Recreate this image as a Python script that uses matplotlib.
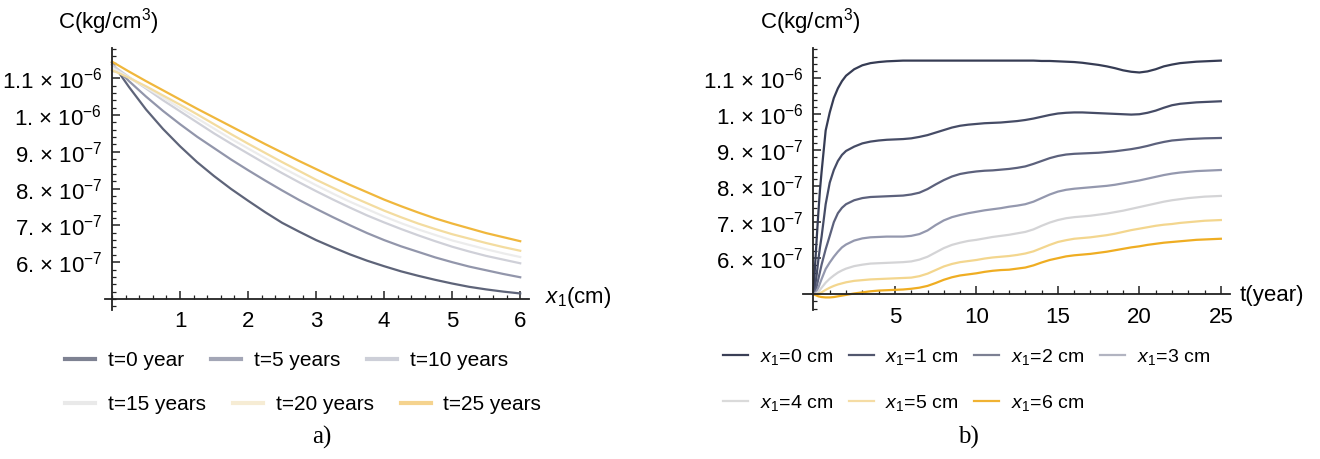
import numpy as np
import matplotlib.pyplot as plt
from matplotlib.lines import Line2D
from matplotlib.ticker import MultipleLocator, FixedLocator, FixedFormatter

plt.rcParams['font.family'] = ['Liberation Sans', 'DejaVu Sans']
plt.rcParams['mathtext.fontset'] = 'custom'
plt.rcParams['mathtext.rm'] = 'Liberation Sans'
plt.rcParams['mathtext.it'] = 'Liberation Sans:italic'

SCALE = 1e-7  # all concentrations below are in units of 1e-7 kg/cm^3

# a) concentration vs depth x1 (cm) for several times
depth = [0, 0.25, 0.5, 0.75, 1, 1.25, 1.5, 1.75, 2, 2.25, 2.5, 2.75, 3,
         3.25, 3.5, 3.75, 4, 4.25, 4.5, 4.75, 5, 5.25, 5.5, 5.75, 6]
conc_t0 = [11.42, 10.76, 10.15, 9.62, 9.15, 8.72, 8.34, 7.99, 7.67, 7.36, 7.07, 6.83, 6.60,
           6.40, 6.21, 6.04, 5.89, 5.75, 5.63, 5.52, 5.42, 5.33, 5.26, 5.20, 5.15]
conc_t5 = [11.38, 10.92, 10.50, 10.11, 9.75, 9.41, 9.10, 8.79, 8.50, 8.22, 7.95, 7.69, 7.45,
           7.22, 7.00, 6.79, 6.60, 6.43, 6.28, 6.13, 6.00, 5.88, 5.78, 5.68, 5.59]
conc_t10 = [11.36, 11.03, 10.72, 10.40, 10.10, 9.80, 9.50, 9.22, 8.95, 8.68, 8.42, 8.17, 7.93,
            7.70, 7.48, 7.27, 7.08, 6.90, 6.73, 6.57, 6.42, 6.29, 6.17, 6.07, 5.97]
conc_t15 = [11.29, 11.02, 10.75, 10.47, 10.19, 9.91, 9.63, 9.35, 9.09, 8.83, 8.57, 8.33, 8.09,
            7.86, 7.64, 7.44, 7.24, 7.06, 6.89, 6.74, 6.59, 6.47, 6.35, 6.24, 6.14]
conc_t20 = [11.22, 11.01, 10.78, 10.53, 10.28, 10.02, 9.75, 9.48, 9.22, 8.97, 8.72, 8.48, 8.24,
            8.02, 7.80, 7.60, 7.40, 7.22, 7.05, 6.90, 6.76, 6.64, 6.52, 6.41, 6.31]
conc_t25 = [11.45, 11.18, 10.92, 10.67, 10.42, 10.17, 9.93, 9.69, 9.45, 9.21, 8.98, 8.75, 8.53,
            8.31, 8.10, 7.90, 7.70, 7.52, 7.35, 7.19, 7.05, 6.92, 6.79, 6.68, 6.57]
time_labels = ['t=0 year', 't=5 years', 't=10 years',
               't=15 years', 't=20 years', 't=25 years']

# b) concentration vs time (years) at several depths
years = [0, 0.1, 0.2, 0.3, 0.4, 0.5, 0.75, 1, 1.25, 1.5, 1.75, 2,
         2.5, 3, 3.5, 4, 4.5, 5, 5.5, 6,
         6.5, 7, 7.5, 8, 8.5, 9, 9.5, 10,
         10.5, 11, 11.5, 12, 12.5, 13, 13.5, 14,
         14.5, 15, 15.5, 16, 16.5, 17, 17.5, 18,
         18.5, 19, 19.5, 20, 20.5, 21, 21.5, 22,
         22.5, 23, 23.5, 24, 24.5, 25]
conc_x0 = [5.0, 5.8, 6.55, 7.25, 7.9, 8.4, 9.55, 10.05, 10.45, 10.72, 10.92, 11.07,
           11.25, 11.36, 11.42, 11.45, 11.47, 11.48, 11.49, 11.49,
           11.49, 11.49, 11.49, 11.49, 11.49, 11.49, 11.49, 11.49,
           11.49, 11.49, 11.49, 11.49, 11.49, 11.49, 11.49, 11.48,
           11.48, 11.47, 11.46, 11.45, 11.43, 11.40, 11.37, 11.33,
           11.28, 11.22, 11.18, 11.16, 11.19, 11.25, 11.33, 11.38,
           11.42, 11.44, 11.46, 11.47, 11.48, 11.49]
conc_x1 = [5.0, 5.2, 5.55, 5.95, 6.3, 6.6, 7.5, 8.1, 8.45, 8.7, 8.87, 8.98,
           9.10, 9.19, 9.24, 9.27, 9.29, 9.30, 9.31, 9.33,
           9.37, 9.42, 9.49, 9.56, 9.63, 9.68, 9.71, 9.73,
           9.75, 9.76, 9.77, 9.79, 9.81, 9.84, 9.88, 9.93,
           9.98, 10.02, 10.04, 10.05, 10.05, 10.04, 10.03, 10.02,
           10.01, 10.00, 9.99, 10.00, 10.04, 10.10, 10.18, 10.25,
           10.29, 10.31, 10.33, 10.34, 10.35, 10.36]
conc_x2 = [5.0, 5.08, 5.22, 5.42, 5.62, 5.82, 6.25, 6.62, 7.0, 7.25, 7.4, 7.5,
           7.61, 7.67, 7.70, 7.71, 7.72, 7.73, 7.74, 7.77,
           7.82, 7.92, 8.05, 8.17, 8.27, 8.34, 8.38, 8.41,
           8.43, 8.44, 8.46, 8.48, 8.51, 8.55, 8.62, 8.70,
           8.78, 8.84, 8.88, 8.90, 8.91, 8.92, 8.93, 8.95,
           8.97, 9.00, 9.03, 9.07, 9.12, 9.18, 9.23, 9.27,
           9.29, 9.31, 9.32, 9.33, 9.335, 9.34]
conc_x3 = [5.0, 5.03, 5.09, 5.18, 5.3, 5.42, 5.7, 5.88, 6.04, 6.18, 6.3, 6.38,
           6.49, 6.55, 6.58, 6.59, 6.60, 6.60, 6.60, 6.62,
           6.67, 6.77, 6.92, 7.05, 7.14, 7.20, 7.25, 7.29,
           7.33, 7.36, 7.39, 7.43, 7.46, 7.50, 7.57, 7.67,
           7.77, 7.85, 7.90, 7.93, 7.95, 7.97, 7.99, 8.01,
           8.04, 8.08, 8.12, 8.16, 8.21, 8.26, 8.31, 8.35,
           8.38, 8.40, 8.42, 8.43, 8.44, 8.45]
conc_x4 = [5.0, 5.01, 5.03, 5.07, 5.12, 5.18, 5.32, 5.43, 5.52, 5.6, 5.66, 5.71,
           5.78, 5.82, 5.85, 5.86, 5.87, 5.88, 5.89, 5.91,
           5.96, 6.04, 6.16, 6.28, 6.37, 6.43, 6.48, 6.51,
           6.55, 6.59, 6.62, 6.65, 6.69, 6.73, 6.80, 6.90,
           6.99, 7.06, 7.11, 7.14, 7.16, 7.18, 7.21, 7.24,
           7.28, 7.32, 7.37, 7.42, 7.47, 7.52, 7.57, 7.61,
           7.64, 7.67, 7.69, 7.71, 7.72, 7.73]
conc_x5 = [5.0, 5.0, 5.0, 5.01, 5.03, 5.05, 5.12, 5.18, 5.23, 5.27, 5.3, 5.33,
           5.37, 5.39, 5.41, 5.42, 5.43, 5.44, 5.45, 5.46,
           5.50, 5.57, 5.67, 5.77, 5.84, 5.89, 5.92, 5.95,
           5.99, 6.02, 6.04, 6.06, 6.09, 6.13, 6.19, 6.28,
           6.37, 6.45, 6.50, 6.54, 6.56, 6.58, 6.61, 6.64,
           6.68, 6.73, 6.78, 6.82, 6.86, 6.90, 6.93, 6.95,
           6.98, 7.00, 7.02, 7.04, 7.05, 7.06]
conc_x6 = [5.0, 4.98, 4.96, 4.94, 4.93, 4.92, 4.91, 4.91, 4.92, 4.94, 4.96, 4.98,
           5.02, 5.05, 5.08, 5.10, 5.11, 5.12, 5.13, 5.15,
           5.18, 5.23, 5.31, 5.40, 5.47, 5.52, 5.55, 5.58,
           5.62, 5.65, 5.67, 5.68, 5.71, 5.74, 5.80, 5.88,
           5.95, 6.00, 6.05, 6.08, 6.10, 6.12, 6.15, 6.18,
           6.22, 6.26, 6.30, 6.33, 6.37, 6.40, 6.43, 6.45,
           6.47, 6.49, 6.51, 6.52, 6.53, 6.54]
depth_labels = [r'$x_1$=0 cm', r'$x_1$=1 cm', r'$x_1$=2 cm', r'$x_1$=3 cm',
                r'$x_1$=4 cm', r'$x_1$=5 cm', r'$x_1$=6 cm']

ytick_vals = [6, 7, 8, 9, 10, 11]
ytick_labels = [r'6. × 10$^{-7}$', r'7. × 10$^{-7}$', r'8. × 10$^{-7}$',
                r'9. × 10$^{-7}$', r'1. × 10$^{-6}$', r'1.1 × 10$^{-6}$']

left_colors = ['#5e6479', '#9296ab', '#cfd0d8', '#ececec', '#f3dca0', '#f0b73c']
left_legend_colors = ['#7e8292', '#a3a6b6', '#cdcfd8', '#e9e9e9', '#f6ecd4', '#f5d38e']
right_colors = ['#363c54', '#464c66', '#5c617c', '#9498ae', '#d4d4d6', '#f3d68e', '#efad22']
right_legend_colors = ['#3a3f56', '#52576e', '#7c8093', '#b2b4c1', '#dadada', '#f5dca4', '#f0b232']

FS = 15

fig = plt.figure(figsize=(13.2, 4.59), dpi=100)


def style_axes(ax, xlim, ylim, xminor, xticks):
    ax.set_xlim(*xlim)
    ax.set_ylim(ylim[0] * SCALE, ylim[1] * SCALE)
    for side in ('top', 'right'):
        ax.spines[side].set_visible(False)
    ax.spines['left'].set_position(('data', 0))
    ax.spines['bottom'].set_position(('data', 5 * SCALE))
    for side in ('left', 'bottom'):
        ax.spines[side].set_linewidth(1.3)
        ax.spines[side].set_color('#222222')
    ax.xaxis.set_major_locator(FixedLocator(xticks))
    ax.xaxis.set_major_formatter(FixedFormatter([str(v) for v in xticks]))
    ax.xaxis.set_minor_locator(MultipleLocator(xminor))
    ax.yaxis.set_major_locator(FixedLocator([v * SCALE for v in ytick_vals]))
    ax.yaxis.set_major_formatter(FixedFormatter(ytick_labels))
    ax.yaxis.set_minor_locator(MultipleLocator(0.2 * SCALE))
    ax.tick_params(which='both', direction='in', color='#222222', labelsize=FS + 1)
    ax.tick_params(which='major', length=6, width=1.1)
    ax.tick_params(which='minor', length=3, width=0.9)
    ax.tick_params(axis='y', pad=7)
    ax.tick_params(axis='x', pad=9)
    ax.patch.set_alpha(0)


# panel a)
axa = fig.add_axes([0.0797, 0.3246, 0.4008 - 0.0797, 0.8954 - 0.3246])
a_series = [conc_t0, conc_t5, conc_t10, conc_t15, conc_t20, conc_t25]
for vals, col in zip(a_series, left_colors):
    axa.plot(depth, np.array(vals) * SCALE, color=col, lw=1.6)
style_axes(axa, (-0.1, 6.13), (4.70, 11.82), 0.2, [1, 2, 3, 4, 5, 6])

# panel b)
axb = fig.add_axes([0.6081, 0.3246, 0.9318 - 0.6081, 0.8954 - 0.3246])
b_series = [conc_x0, conc_x1, conc_x2, conc_x3, conc_x4, conc_x5, conc_x6]
for vals, col in zip(b_series, right_colors):
    axb.plot(years, np.array(vals) * SCALE, color=col, lw=1.6)
style_axes(axb, (-0.66, 25.56), (4.56, 11.84), 1, [5, 10, 15, 20, 25])

# axis titles
fig.text(108 / 1320, 1 - 22 / 459, r'C(kg/cm$^3$)', ha='center', va='center', fontsize=FS + 1)
fig.text(810 / 1320, 1 - 22 / 459, r'C(kg/cm$^3$)', ha='center', va='center', fontsize=FS + 1)
fig.text(545 / 1320, 1 - 298 / 459, r'$x_1$(cm)', ha='left', va='center', fontsize=FS + 1)
fig.text(1240 / 1320, 1 - 295 / 459, 't(year)', ha='left', va='center', fontsize=FS + 1)


# legends, one row at a time
def legend_row(handles, labels, x, y, size, hlen, spacing):
    return fig.legend(handles, labels, loc='center left', bbox_to_anchor=(x, y),
                      ncol=len(handles), frameon=False, fontsize=size,
                      handlelength=hlen, handletextpad=0.6, columnspacing=spacing,
                      borderpad=0, borderaxespad=0)


a_handles = [Line2D([], [], color=c, lw=3) for c in left_legend_colors]
legend_row(a_handles[:3], time_labels[:3], 65 / 1320, 1 - 361 / 459, FS, 1.45, 1.3)
legend_row(a_handles[3:], time_labels[3:], 65 / 1320, 1 - 405 / 459, FS, 1.45, 1.3)

b_handles = [Line2D([], [], color=c, lw=1.6) for c in right_legend_colors]
legend_row(b_handles[:4], depth_labels[:4], 723 / 1320, 1 - 357 / 459, 14, 1.3, 0.8)
legend_row(b_handles[4:], depth_labels[4:], 723 / 1320, 1 - 403 / 459, 14, 1.3, 0.8)

# sub-figure captions
fig.text(322 / 1320, 1 - 437 / 459, 'a)', ha='center', va='center',
         family='Liberation Serif', fontsize=18)
fig.text(968 / 1320, 1 - 437 / 459, 'b)', ha='center', va='center',
         family='Liberation Serif', fontsize=18)

fig.savefig('out.png', dpi=100)
